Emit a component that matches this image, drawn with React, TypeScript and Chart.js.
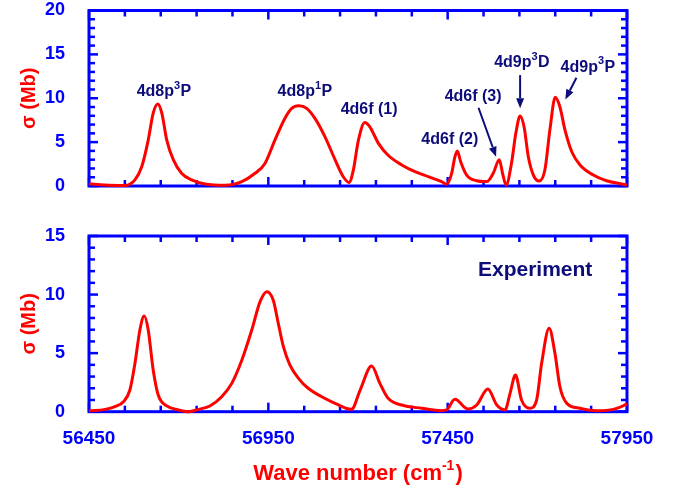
import React, { useEffect, useRef } from 'react';
import { Chart, registerables } from 'chart.js';
Chart.register(...registerables);

// ---------- data ----------
const theoryWave = [56450,56495,56550,56578,56597,56615,56629,56642,56653,56667,56685,56708,56736,56773,56829,56876,56913,56941,56968,56996,57015,57035,57057,57080,57108,57136,57159,57175,57187,57201,57219,57233,57257,57284,57322,57359,57396,57433,57447,57461,57470,57477,57486,57503,57531,57559,57577,57594,57603,57613,57628,57640,57652,57663,57675,57689,57705,57721,57735,57750,57763,57777,57796,57819,57856,57893,57935,57950];
const theorySigma = [0.26,0.1,0.05,0.7,2.2,5.2,8.3,9.34,8.3,5.2,3.0,1.45,0.7,0.23,0.08,0.5,1.45,2.6,5.2,7.7,8.85,9.15,8.85,7.7,5.6,3.0,1.06,0.4,1.8,5.2,7.25,6.75,4.86,3.5,2.4,1.63,1.06,0.5,0.2,1.4,3.3,4.0,2.8,1.25,0.6,0.5,1.45,3.0,1.45,0.1,2.6,6.0,7.97,6.75,3.3,1.25,0.57,1.82,6.4,10.1,9.0,6.4,3.9,2.4,1.25,0.6,0.23,0.1];

const exptWave = [56450,56495,56522,56546,56564,56578,56592,56604,56615,56629,56643,56667,56699,56727,56755,56787,56820,56848,56876,56904,56927,56946,56964,56978,56992,57010,57034,57061,57099,57136,57182,57206,57238,57261,57284,57322,57378,57433,57447,57470,57507,57531,57562,57587,57610,57624,57639,57656,57679,57698,57712,57733,57749,57763,57782,57819,57865,57912,57944,57950];
const exptSigma = [0.06,0.2,0.43,0.85,1.85,4.1,7.0,8.17,7.0,3.56,1.43,0.49,0.15,0.0,0.2,0.49,1.28,2.42,4.4,7.0,9.4,10.25,9.5,7.5,5.55,4.0,2.85,2.0,1.28,0.72,0.2,1.85,3.9,2.42,1.14,0.57,0.29,0.09,0.15,1.06,0.23,0.57,1.94,0.57,0.15,1.57,3.13,1.0,0.29,1.0,4.13,7.12,5.0,2.13,0.72,0.29,0.09,0.2,0.57,0.7];

const xTickLabels = [56450, 56950, 57450, 57950];
const xRange = [56450, 57950];
const topYRange = [0, 20];
const bottomYRange = [0, 15];

// peak labels: main|superscript|tail, anchored at (wave number, sigma)
const peakLabelText = ['4d8p|3|P', '4d8p|1|P', '4d6f (1)||', '4d6f (2)||', '4d6f (3)||', '4d9p|3|D', '4d9p|3|P'];
const peakLabelWave = [56659, 57052, 57231, 57456, 57521, 57657, 57841];
const peakLabelSigma = [10.88, 10.88, 8.88, 5.47, 10.36, 14.24, 13.7];

// arrows: from (wave, sigma) to (wave, sigma)
const arrowFromWave = [57536, 57652, 57809];
const arrowFromSigma = [8.92, 12.64, 12.33];
const arrowToWave = [57585, 57652, 57778];
const arrowToSigma = [3.34, 8.85, 9.87];

const experimentLabel = 'Experiment';
const experimentWave = 57694;
const experimentSigma = 12.1;

const yTitle = 'σ (Mb)';
const xTitleMain = 'Wave number (cm';
const xTitleSup = '-1';
const xTitleEnd = ')';

// ---------- styles ----------
const FONT = '"Liberation Sans", Arial, Helvetica, sans-serif';
const BLUE = '#0000ff';
const RED = '#ff0000';
const NAVY = '#0c0c7a';

function decorPlugin(cfg: any) {
  return {
    id: 'decor',
    beforeDatasetsDraw(chart: any) {
      const { ctx, chartArea: a, scales } = chart;
      const xs = scales.x, ys = scales.y;
      ctx.save();
      ctx.strokeStyle = BLUE;
      ctx.lineWidth = 2.5;
      ctx.lineCap = 'butt';
      const seg = (x1: number, y1: number, x2: number, y2: number) => {
        ctx.beginPath(); ctx.moveTo(x1, y1); ctx.lineTo(x2, y2); ctx.stroke();
      };
      for (let v = xs.min; v <= xs.max + 1e-6; v += 100) {
        const px = xs.getPixelForValue(v);
        const major = xTickLabels.includes(Math.round(v));
        const len = major ? 9 : 6;
        seg(px, a.bottom, px, a.bottom - len);
        seg(px, a.top, px, a.top + len);
      }
      for (let v = ys.min; v <= ys.max + 1e-6; v += 1) {
        const py = ys.getPixelForValue(v);
        const major = Math.round(v) % 5 === 0;
        const len = major ? 9 : 6;
        seg(a.left, py, a.left + len, py);
        seg(a.right, py, a.right - len, py);
      }
      ctx.lineWidth = 3;
      ctx.strokeRect(a.left, a.top, a.right - a.left, a.bottom - a.top);
      ctx.restore();
    },
    afterDatasetsDraw(chart: any) {
      const { ctx, chartArea: a, scales } = chart;
      const xs = scales.x, ys = scales.y;
      ctx.save();
      ctx.fillStyle = NAVY;
      ctx.strokeStyle = NAVY;
      if (cfg.peaks) {
        peakLabelText.forEach((t, i) => {
          const [main, sup, tail] = t.split('|');
          const fs = 16, ss = 11;
          ctx.font = `bold ${fs}px ${FONT}`;
          const w1 = ctx.measureText(main).width;
          const w3 = ctx.measureText(tail).width;
          ctx.font = `bold ${ss}px ${FONT}`;
          const w2 = sup ? ctx.measureText(sup).width + 0.5 : 0;
          const total = w1 + w2 + w3;
          const cx = xs.getPixelForValue(peakLabelWave[i]);
          const cy = ys.getPixelForValue(peakLabelSigma[i]);
          const base = cy + fs * 0.36;
          let x = cx - total / 2;
          ctx.textBaseline = 'alphabetic';
          ctx.textAlign = 'left';
          ctx.font = `bold ${fs}px ${FONT}`;
          ctx.fillText(main, x, base);
          x += w1;
          if (sup) {
            ctx.font = `bold ${ss}px ${FONT}`;
            ctx.fillText(sup, x, base - fs * 0.45);
            x += w2;
          }
          ctx.font = `bold ${fs}px ${FONT}`;
          ctx.fillText(tail, x, base);
        });
        arrowFromWave.forEach((_, i) => {
          const x1 = xs.getPixelForValue(arrowFromWave[i]);
          const y1 = ys.getPixelForValue(arrowFromSigma[i]);
          const x2 = xs.getPixelForValue(arrowToWave[i]);
          const y2 = ys.getPixelForValue(arrowToSigma[i]);
          const ang = Math.atan2(y2 - y1, x2 - x1);
          const hl = 10, hw = 4;
          const bx = x2 - hl * Math.cos(ang), by = y2 - hl * Math.sin(ang);
          ctx.lineWidth = 2;
          ctx.beginPath(); ctx.moveTo(x1, y1); ctx.lineTo(bx, by); ctx.stroke();
          ctx.beginPath();
          ctx.moveTo(x2, y2);
          ctx.lineTo(bx + hw * Math.sin(ang), by - hw * Math.cos(ang));
          ctx.lineTo(bx - hw * Math.sin(ang), by + hw * Math.cos(ang));
          ctx.closePath(); ctx.fill();
        });
      }
      if (cfg.experiment) {
        ctx.font = `bold 21px ${FONT}`;
        ctx.textAlign = 'center';
        ctx.textBaseline = 'middle';
        ctx.fillText(experimentLabel, xs.getPixelForValue(experimentWave), ys.getPixelForValue(experimentSigma));
      }
      if (cfg.xTitle) {
        const fs = 22, ss = 14;
        ctx.fillStyle = RED;
        ctx.font = `bold ${fs}px ${FONT}`;
        const w1 = ctx.measureText(xTitleMain).width;
        const w3 = ctx.measureText(xTitleEnd).width;
        ctx.font = `bold ${ss}px ${FONT}`;
        const w2 = ctx.measureText(xTitleSup).width + 1;
        const total = w1 + w2 + w3;
        let x = (a.left + a.right) / 2 - total / 2;
        const base = a.bottom + 60 + fs * 0.36;
        ctx.textAlign = 'left';
        ctx.textBaseline = 'alphabetic';
        ctx.font = `bold ${fs}px ${FONT}`;
        ctx.fillText(xTitleMain, x, base);
        x += w1;
        ctx.font = `bold ${ss}px ${FONT}`;
        ctx.fillText(xTitleSup, x, base - fs * 0.45);
        x += w2;
        ctx.font = `bold ${fs}px ${FONT}`;
        ctx.fillText(xTitleEnd, x, base);
      }
      ctx.restore();
    },
  };
}

function makeConfig(wave: number[], sigma: number[], yRange: number[], bottom: boolean, height: number, cfg: any): any {
  const xScale: any = {
    type: 'linear',
    min: xRange[0],
    max: xRange[1],
    display: bottom,
    grid: { display: false },
    border: { display: false },
    ticks: {
      color: BLUE,
      font: { family: FONT, size: 19, weight: 'bold' },
      padding: 8,
      maxRotation: 0,
      autoSkip: false,
      callback: (v: any) => String(v),
    },
  };
  if (bottom) {
    xScale.afterBuildTicks = (s: any) => { s.ticks = xTickLabels.map(v => ({ value: v })); };
    xScale.afterFit = (s: any) => { s.height = height - 211.7; };
  }
  return {
    type: 'line',
    data: {
      datasets: [{
        data: wave.map((w, i) => ({ x: w, y: sigma[i] })),
        borderColor: RED,
        borderWidth: 3,
        pointRadius: 0,
        cubicInterpolationMode: 'monotone',
        fill: false,
        clip: 4,
      }],
    },
    options: {
      animation: false,
      responsive: false,
      events: [],
      layout: bottom
        ? { padding: { left: 0, right: 57, top: 36, bottom: 0 } }
        : { padding: { left: 0, right: 57, top: 10.5, bottom: height - 186 } },
      plugins: { legend: { display: false }, tooltip: { enabled: false } },
      scales: {
        x: xScale,
        y: {
          min: yRange[0],
          max: yRange[1],
          grid: { display: false },
          border: { display: false },
          afterFit: (s: any) => { s.width = 89; s.paddingTop = 0; s.paddingBottom = 0; },
          ticks: {
            stepSize: 5,
            color: BLUE,
            font: { family: FONT, size: 18, weight: 'bold' },
            padding: 16,
            callback: (v: any) => String(v),
          },
          title: {
            display: true,
            text: yTitle,
            color: RED,
            font: { family: FONT, size: 20, weight: 'bold' },
            padding: { top: 17, bottom: 0 },
          },
        },
      },
    },
    plugins: [decorPlugin(cfg)],
  };
}

export default function App() {
  const topRef = useRef<HTMLCanvasElement>(null);
  const botRef = useRef<HTMLCanvasElement>(null);
  useEffect(() => {
    const c1 = new Chart(topRef.current as HTMLCanvasElement, makeConfig(theoryWave, theorySigma, topYRange, false, 200, { peaks: true }));
    const c2 = new Chart(botRef.current as HTMLCanvasElement, makeConfig(exptWave, exptSigma, bottomYRange, true, 291, { experiment: true, xTitle: true }));
    return () => { c1.destroy(); c2.destroy(); };
  }, []);
  return (
    <div style={{ position: 'fixed', left: 0, top: 0, width: 684, height: 491, background: '#fff' }}>
      <canvas ref={topRef} width={684} height={200} style={{ position: 'absolute', left: 0, top: 0, width: 684, height: 200 }} />
      <canvas ref={botRef} width={684} height={291} style={{ position: 'absolute', left: 0, top: 200, width: 684, height: 291 }} />
    </div>
  );
}
